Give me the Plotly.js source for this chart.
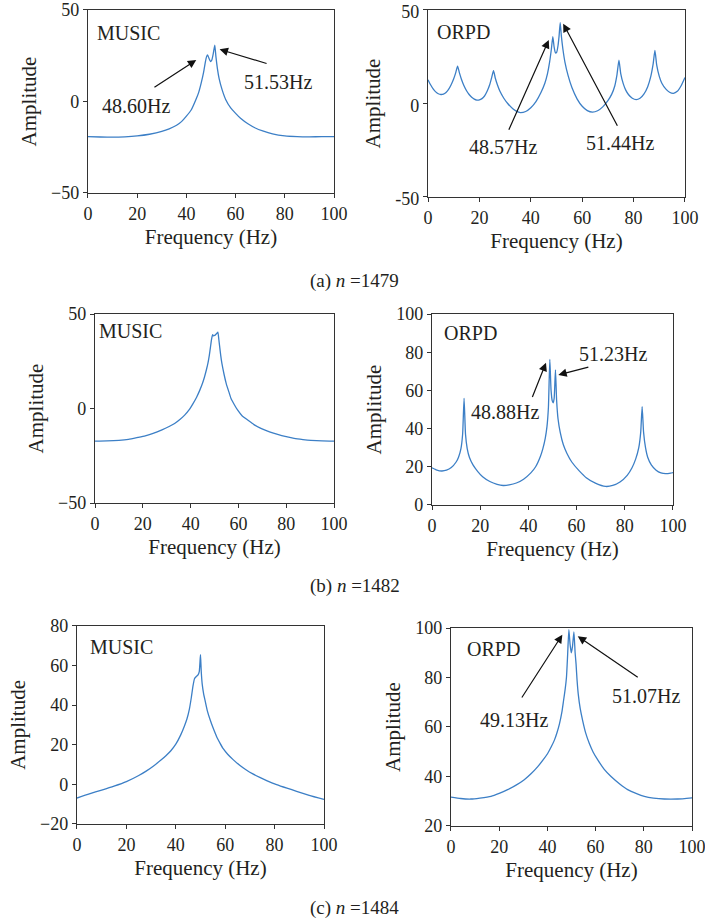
<!DOCTYPE html>
<html>
<head>
<meta charset="utf-8">
<script src="https://cdn.plot.ly/plotly-3.0.1.min.js"></script>
<style>html,body{margin:0;padding:0;background:#fff;}#chart{width:705px;height:923px;}</style>
</head>
<body>
<div id="chart"></div>
<script>
// (a) n = 1479 — MUSIC
const freqA1 = [0,5,10,15,20,25,30,33,36,38,40,42,44,45,46,47,47.7,48.2,48.6,49.2,49.8,50.3,50.9,51.53,52.0,52.6,53.3,54.5,56,58,60,62,65,68,71,75,80,85,90,95,100];
const ampA1  = [-19.2,-19.4,-19.5,-19.3,-18.8,-17.9,-16.4,-15.0,-13.0,-11.0,-8.0,-4.5,1.5,5.0,10.0,16.0,21.5,24.5,25.5,23.5,21.8,22.5,26.0,30.8,24.5,18.0,12.5,6.5,1.0,-3.5,-6.5,-9.2,-12.2,-14.5,-16.1,-17.7,-18.8,-19.2,-19.3,-19.2,-19.2];
// (a) n = 1479 — ORPD
const freqA2 = [0,1,2,3,4,5,6,7,8,9,10,10.8,11.5,12.2,13,14,15,16,17,18,19,20,21,22,23,24,24.8,25.5,26.2,27,28,29.5,31,33,35,36,38,40,42,44,45.5,46.5,47.3,48.0,48.57,49.1,49.6,50.1,50.6,51.0,51.44,51.9,52.5,53.3,54.5,56,58,60,62,64,66,68,70,71.5,72.7,73.5,74.3,75.0,76,77,78,79.5,81,82.5,84,85.5,86.7,87.6,88.3,89.0,90,91,92.5,94,95.5,97,98.5,100];
const ampA2  = [12.7,10.0,7.8,6.2,5.2,4.8,5.0,5.9,7.5,10.0,13.2,16.5,20.0,16.5,13.0,9.5,6.8,4.8,3.3,2.3,1.8,1.9,2.6,4.0,6.5,10.0,14.0,17.5,13.5,10.0,6.5,2.8,0.0,-2.8,-4.5,-4.9,-4.3,-2.3,1.0,6.0,11.0,16.0,22.0,29.0,35.7,30.0,27.0,27.5,31.0,36.0,43.2,36.0,29.0,22.0,15.0,8.5,2.5,-1.5,-3.8,-4.6,-3.9,-1.8,1.5,5.0,9.5,15.0,23.2,16.0,10.5,7.0,4.8,2.8,2.1,2.8,5.0,9.0,14.5,21.0,28.4,20.5,14.5,10.8,7.8,6.0,5.4,6.5,9.5,13.9];
// (b) n = 1482 — MUSIC
const freqB1 = [0,5,10,14,18,21,24,28,31,33.3,35.5,37.5,39.5,41,42.5,43.8,45,45.8,46.6,47.2,47.8,48.3,48.8,49.2,49.6,50.0,50.5,51.0,51.4,51.8,52.1,52.6,53.1,54.0,54.9,56,56.9,58.3,59.7,61.5,63.9,66.5,69.4,73,76.4,80,83.3,87,90.3,95,100];
const ampB1  = [-17.2,-17.1,-16.8,-16.3,-15.3,-14.5,-13.3,-11.3,-9.5,-7.9,-5.8,-3.5,-0.5,2.6,6.0,9.6,13.5,16.7,20.5,23.7,28.0,32.5,37.0,39.1,38.4,38.6,39.2,39.8,40.4,36.5,33.3,28.0,23.7,18.0,13.2,8.8,5.3,2.0,-0.9,-3.8,-6.1,-8.5,-10.5,-12.3,-13.7,-14.9,-15.8,-16.4,-16.8,-17.1,-17.2];
// (b) n = 1482 — ORPD
const freqB2 = [0,2,4,6,8,10,11,12,12.7,13.3,13.9,14.6,15.5,17,19,21,24,27,29.5,32,35,38,41,43,45,46,47,47.7,48.3,48.88,49.4,49.9,50.3,50.7,51.23,51.7,52.3,53.2,54.5,56,58,61,64,68,72,75,78,81,83,84.5,85.8,86.6,87.2,87.8,88.6,89.5,91,93,95,97,99,100];
const ampB2  = [19.5,18.3,17.8,18.2,19.6,22.5,25.0,29.5,37.0,55.8,37.0,29.5,25.0,21.0,17.5,14.8,12.3,10.8,10.2,10.5,11.5,13.5,16.8,20.0,25.5,29.5,35.0,41.0,51.0,76.2,60.0,54.5,53.5,56.0,70.7,55.0,45.0,38.0,31.5,27.0,22.5,18.0,14.3,11.3,9.7,10.2,12.0,15.5,19.5,24.0,30.0,38.0,51.5,38.0,30.0,25.0,21.0,18.2,16.8,16.4,16.7,17.0];
// (c) n = 1484 — MUSIC
const freqC1 = [0,5,10,15,20,25,28,31,34,36,38,40,42,43.5,44.5,45.5,46.3,47,47.6,48.3,49.0,49.5,49.8,50.0,50.3,50.7,51.3,51.8,52.8,53.9,55,56.5,58,59.2,61,63.2,66,68.7,71,74,77,80.8,85,88.9,94,100];
const ampC1  = [-6.9,-4.8,-2.9,-0.9,1.4,4.5,6.7,9.3,12.3,14.5,17.0,20.3,25.0,29.5,33.0,38.0,44.0,50.0,53.5,54.5,55.3,57.0,62.0,65.5,57.0,50.5,45.5,42.7,37.0,32.6,28.8,24.2,20.6,18.0,15.2,12.5,9.5,7.1,5.4,3.5,1.8,-0.1,-1.9,-3.5,-5.5,-7.6];
// (c) n = 1484 — ORPD
const freqC2 = [0,4,8.3,12,16.6,20,23.5,27,30.4,33.3,36,38.2,40.1,41.6,42.9,44.0,45.0,46.0,46.7,47.4,47.9,48.4,48.9,49.4,49.9,50.4,51.0,51.5,51.9,52.3,52.8,53.6,54.6,55.9,57.4,59,60.9,63.5,66.4,70,73.3,77,80.2,84,88.5,94,100];
const ampC2  = [31.7,31.1,30.9,31.3,32.0,33.2,34.7,36.5,38.7,41.2,44.0,46.7,49.3,52.0,54.7,57.8,61.3,66.0,70.7,75.5,80.0,89.3,99.3,93.5,90.0,92.5,98.4,90.0,85.3,79.0,73.3,67.5,62.7,57.5,53.3,49.8,46.7,43.0,40.0,37.0,34.7,33.1,32.0,31.3,30.9,30.9,31.4];

// Tick labels
const tickFreq = [0,20,40,60,80,100];
const tickAmpA2 = [-50,0,50];
const tickAmpA2Text = ['-50','0','50'];

// Annotation texts
const methodNames = ['MUSIC','ORPD'];
const captions = ['(a) <i>n</i> =1479','(b) <i>n</i> =1482','(c) <i>n</i> =1484'];
const peakLabels = {
  a2: ['48.60Hz','51.53Hz'],
  a1: ['48.57Hz','51.44Hz'],
  b:  ['48.88Hz','51.23Hz'],
  c:  ['49.13Hz','51.07Hz']
};

const FONT = 'Liberation Serif, Times New Roman, serif';
const TXT = '#231f20';
const LINE = '#3c7fc6';

const series = [[freqA1,ampA1],[freqA2,ampA2],[freqB1,ampB1],[freqB2,ampB2],[freqC1,ampC1],[freqC2,ampC2]];
const traces = series.map((s,i)=>({
  x: s[0], y: s[1], type:'scatter', mode:'lines',
  line:{color:LINE, width:1.3, shape:'spline', smoothing:0.5},
  xaxis: i===0?'x':'x'+(i+1), yaxis: i===0?'y':'y'+(i+1),
  hoverinfo:'skip', showlegend:false
}));

function xax(domain, anchor){
  return {domain, anchor, range:[0,100], tickvals:tickFreq, ticks:'outside', ticklen:4, tickwidth:1,
    tickcolor:'#333', showline:true, linecolor:'#333', linewidth:1.2, mirror:true, showgrid:false, zeroline:false,
    ticklabeloverflow:'allow',
    tickfont:{family:FONT,size:18,color:TXT},
    title:{text:'Frequency (Hz)', font:{family:FONT,size:21,color:TXT}, standoff:6}};
}
function yax(domain, anchor, range, dtick, extra){
  return Object.assign({domain, anchor, range, dtick, ticks:'outside', ticklen:4, tickwidth:1,
    tickcolor:'#333', showline:true, linecolor:'#333', linewidth:1.2, mirror:true, showgrid:false, zeroline:false,
    ticklabeloverflow:'allow',
    tickfont:{family:FONT,size:18,color:TXT},
    title:{text:'Amplitude', font:{family:FONT,size:21,color:TXT}, standoff:8}}, extra||{});
}

function label(text, xref, yref, x, y){
  return {text, xref, yref, x, y, xanchor:'left', yanchor:'middle', showarrow:false,
    font:{family:FONT,size:20,color:TXT}};
}
function ptext(text, xref, yref, x, y){
  return {text, xref, yref, x, y, xanchor:'center', yanchor:'middle', showarrow:false,
    font:{family:FONT,size:20,color:TXT}};
}
function arrow(xref, yref, x, y, ax, ay){
  return {text:'', xref, yref, x, y, axref:xref, ayref:yref, ax, ay, showarrow:true,
    arrowhead:2, arrowsize:1.4, arrowwidth:1.2, arrowcolor:'#111', standoff:0, startstandoff:0};
}
function cap(text, y){
  return {text, xref:'paper', yref:'paper', x:355/705, y:1-y/923, xanchor:'center', yanchor:'middle',
    showarrow:false, font:{family:FONT,size:19,color:TXT}};
}

const annotations = [
  label(methodNames[0],'x','y',2.7,37.3),
  arrow('x','y',44.0,22.7,26.4,7.3),
  ptext(peakLabels.a2[0],'x','y',19.6,-2.4),
  arrow('x','y',53.5,28.5,73.2,20.5),
  ptext(peakLabels.a2[1],'x','y',77.2,10.9),

  label(methodNames[1],'x2','y2',2.6,38.3),
  arrow('x2','y2',47.0,34.0,31.2,-14.8),
  ptext(peakLabels.a1[0],'x2','y2',29.0,-23.5),
  arrow('x2','y2',52.6,42.7,74.0,-12.7),
  ptext(peakLabels.a1[1],'x2','y2',74.9,-20.9),

  label(methodNames[0],'x3','y3',0.7,41.2),

  label(methodNames[1],'x4','y4',4.1,89.9),
  arrow('x4','y4',47.3,74.5,41.4,55.8),
  ptext(peakLabels.b[0],'x4','y4',30.3,48.9),
  arrow('x4','y4',52.4,68.1,65.5,72.4),
  ptext(peakLabels.b[1],'x4','y4',75.2,78.9),

  label(methodNames[0],'x5','y5',4.3,69.6),

  label(methodNames[1],'x6','y6',6.0,91.7),
  arrow('x6','y6',46.2,97.3,29.0,71.3),
  ptext(peakLabels.c[0],'x6','y6',26.3,62.7),
  arrow('x6','y6',52.6,96.7,78.1,79.7),
  ptext(peakLabels.c[1],'x6','y6',80.9,72.7),

  cap(captions[0],281),
  cap(captions[1],586),
  cap(captions[2],908)
];

const layout = {
  width:705, height:923, margin:{l:0,r:0,t:0,b:0},
  paper_bgcolor:'#fff', plot_bgcolor:'#fff', showlegend:false,
  font:{family:FONT,color:TXT},
  xaxis: xax([0.1248,0.4738],'y'),
  yaxis: yax([0.7909,0.9892],'x',[-50,50],50),
  xaxis2: xax([0.6071,0.9716],'y2'),
  yaxis2: yax([0.7866,0.98917],'x2',[-50,50],50,{tickvals:tickAmpA2, ticktext:tickAmpA2Text, ticklabelshift:2}),
  xaxis3: xax([0.1348,0.4738],'y3'),
  yaxis3: yax([0.4550,0.6598],'x3',[-50,50],50),
  xaxis4: xax([0.6128,0.9546],'y4'),
  yaxis4: yax([0.4529,0.6598],'x4',[0,100],20),
  xaxis5: xax([0.1092,0.4596],'y5'),
  yaxis5: yax([0.1073,0.3218],'x5',[-20,80],20),
  xaxis6: xax([0.6397,0.9816],'y6'),
  yaxis6: yax([0.1051,0.3196],'x6',[20,100],20),
  annotations
};

Plotly.newPlot('chart', traces, layout, {staticPlot:true, displayModeBar:false});
</script>
</body>
</html>
